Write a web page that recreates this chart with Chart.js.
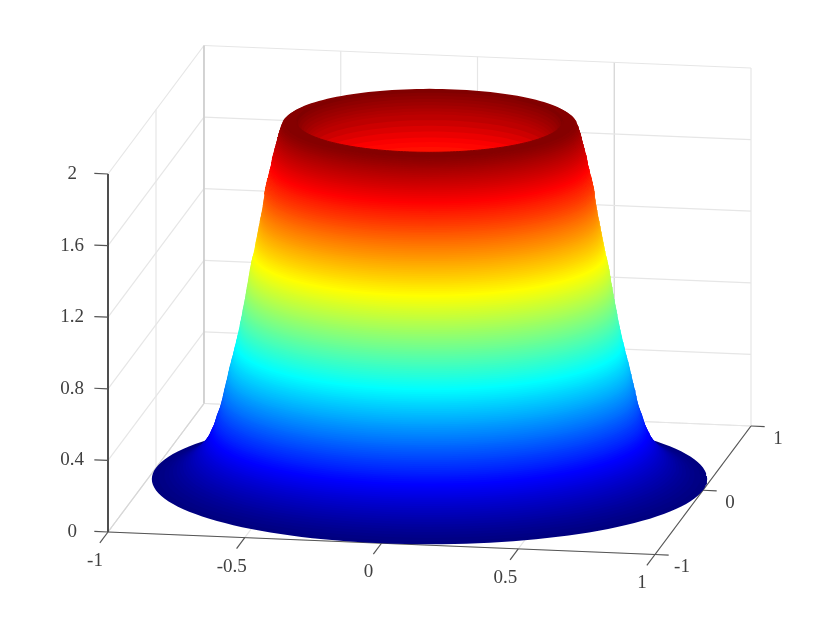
<!DOCTYPE html>
<html>
<head>
<meta charset="utf-8">
<title>Surface</title>
<script src="https://cdn.jsdelivr.net/npm/chart.js@4"></script>
<style>
    body { margin: 0; background: #fff; }
    canvas { display: block; }
</style>
</head>
<body>
<canvas id="surface-chart" width="830" height="623"></canvas>
<script>
// Tick labels of the three axes
const xTicks = [-1, -0.5, 0, 0.5, 1];
const yTicks = [-1, 0, 1];
const zTicks = [0, 0.4, 0.8, 1.2, 1.6, 2];

const wallHeights = [
    0, 0.01, 0.02, 0.03, 0.04, 0.05, 0.06, 0.07, 0.08, 0.09,
    0.10, 0.11, 0.12, 0.13, 0.14, 0.15, 0.16, 0.17, 0.18, 0.19,
    0.20, 0.21, 0.22, 0.23, 0.24, 0.25, 0.26, 0.27, 0.28, 0.29,
    0.30, 0.31, 0.32, 0.33, 0.34, 0.35, 0.36, 0.37, 0.38, 0.39,
    0.40, 0.41, 0.42, 0.43, 0.44, 0.45, 0.46, 0.47, 0.48, 0.49,
    0.50, 0.51, 0.52, 0.53, 0.54, 0.55, 0.56, 0.57, 0.58, 0.59,
    0.60, 0.61, 0.62, 0.63, 0.64, 0.65, 0.66, 0.67, 0.68, 0.69,
    0.70, 0.71, 0.72, 0.73, 0.74, 0.75, 0.76, 0.77, 0.78, 0.79,
    0.80, 0.81, 0.82, 0.83, 0.84, 0.85, 0.86, 0.87, 0.88, 0.89,
    0.90, 0.91, 0.92, 0.93, 0.94, 0.95, 0.96, 0.97, 0.98, 0.99,
    1.00, 1.01, 1.02, 1.03, 1.04, 1.05, 1.06, 1.07, 1.08, 1.09,
    1.10, 1.11, 1.12, 1.13, 1.14, 1.15, 1.16, 1.17, 1.18, 1.19,
    1.20, 1.21, 1.22, 1.23, 1.24, 1.25, 1.26, 1.27, 1.28, 1.29,
    1.30, 1.31, 1.32, 1.33, 1.34, 1.35, 1.36, 1.37, 1.38, 1.39,
    1.40, 1.41, 1.42, 1.43, 1.44, 1.45, 1.46, 1.47, 1.48, 1.49,
    1.50, 1.51, 1.52, 1.53, 1.54, 1.55, 1.56, 1.57, 1.58, 1.59,
    1.60, 1.61, 1.62, 1.63, 1.64, 1.65, 1.66, 1.67, 1.68, 1.69,
    1.70, 1.71, 1.72, 1.73, 1.74, 1.75, 1.76, 1.77, 1.78, 1.79,
    1.80, 1.81, 1.82, 1.83, 1.84, 1.85, 1.86, 1.87, 1.88, 1.89,
    1.90, 1.91, 1.92, 1.93, 1.94, 1.95, 1.96, 1.97, 1.98, 1.99, 2.00
];
const wallRadii = [
    1.000, 0.975, 0.955, 0.938, 0.924, 0.911, 0.899, 0.888, 0.878, 0.869,
    0.860, 0.853, 0.846, 0.839, 0.833, 0.827, 0.822, 0.817, 0.812, 0.808,
    0.804, 0.800, 0.797, 0.794, 0.791, 0.788, 0.785, 0.782, 0.779, 0.777,
    0.775, 0.773, 0.771, 0.769, 0.767, 0.764, 0.762, 0.759, 0.757, 0.755,
    0.753, 0.751, 0.750, 0.748, 0.747, 0.745, 0.744, 0.743, 0.741, 0.739,
    0.738, 0.736, 0.735, 0.733, 0.732, 0.730, 0.729, 0.727, 0.726, 0.724,
    0.723, 0.721, 0.720, 0.718, 0.716, 0.715, 0.713, 0.711, 0.709, 0.708,
    0.706, 0.705, 0.703, 0.702, 0.700, 0.698, 0.697, 0.695, 0.694, 0.692,
    0.691, 0.689, 0.688, 0.686, 0.685, 0.684, 0.683, 0.681, 0.680, 0.679,
    0.678, 0.676, 0.675, 0.674, 0.673, 0.671, 0.670, 0.669, 0.668, 0.666,
    0.665, 0.664, 0.663, 0.662, 0.661, 0.660, 0.659, 0.657, 0.656, 0.655,
    0.654, 0.653, 0.652, 0.651, 0.650, 0.649, 0.648, 0.646, 0.645, 0.644,
    0.643, 0.641, 0.640, 0.638, 0.636, 0.635, 0.633, 0.632, 0.631, 0.629,
    0.628, 0.627, 0.626, 0.624, 0.623, 0.622, 0.621, 0.619, 0.618, 0.617,
    0.616, 0.614, 0.613, 0.612, 0.611, 0.609, 0.608, 0.607, 0.606, 0.604,
    0.603, 0.602, 0.601, 0.600, 0.599, 0.598, 0.597, 0.596, 0.595, 0.594,
    0.593, 0.592, 0.591, 0.590, 0.588, 0.587, 0.585, 0.584, 0.582, 0.580,
    0.578, 0.577, 0.575, 0.574, 0.572, 0.570, 0.569, 0.568, 0.567, 0.566,
    0.565, 0.562, 0.560, 0.559, 0.557, 0.556, 0.554, 0.552, 0.550, 0.549,
    0.547, 0.546, 0.544, 0.542, 0.540, 0.538, 0.536, 0.533, 0.530, 0.520, 0.480
];

// Inside of the crater, from the rim down
const bowlHeights = [2.00, 1.985, 1.97, 1.955, 1.94, 1.925, 1.91, 1.895, 1.88, 1.85, 1.82, 1.79, 1.76, 1.74, 1.72, 1.70, 1.68, 1.66];
const bowlRadii = [0.48, 0.475, 0.47, 0.462, 0.455, 0.447, 0.44, 0.435, 0.43, 0.425, 0.42, 0.415, 0.405, 0.39, 0.37, 0.35, 0.30, 0.20];

// Jet colormap stops
const jetStops = [[0, 0, 128], [0, 0, 255], [0, 128, 255], [0, 255, 255], [128, 255, 128], [255, 255, 0], [255, 128, 0], [255, 0, 0], [128, 0, 0]];

const GRID = '#e6e6e6';
const AXIS = '#555555';
const RING_POINTS = 144;
const FONT = { family: '"Liberation Serif", serif', size: 19 };

// Turn a height into its jet color
function jetColor(z) {
    const pos = Math.min(z / 2, 1) * (jetStops.length - 1);
    const i = Math.min(Math.floor(pos), jetStops.length - 2);
    const f = pos - i;
    const c = jetStops[i].map((v, k) => Math.round(v + (jetStops[i + 1][k] - v) * f));
    return `rgb(${c[0]}, ${c[1]}, ${c[2]})`;
}

// 3D to chart coordinates: x scale is in pixels, y scale is in z units at the front left corner
function project(x, y, z) {
    return {
        x: 429.5 + 273.5 * x + 48 * y,
        y: z + (53 - 11.25 * x + 64.25 * y) / 179
    };
}

// Points of one ring between two angles
function ringPoints(radius, z, start, end) {
    const points = [];
    for (let i = 0; i <= RING_POINTS; i++) {
        const t = start + (end - start) * i / RING_POINTS;
        points.push(project(radius * Math.cos(t), radius * Math.sin(t), z));
    }
    return points;
}

function lineDataset(from, to, color, width = 1) {
    return {
        data: [project(...from), project(...to)],
        showLine: true,
        borderColor: color,
        borderWidth: width,
        pointRadius: 0,
        clip: false
    };
}

function shapeDataset(points, color, borderWidth) {
    return {
        data: points,
        showLine: true,
        fill: 'shape',
        backgroundColor: color,
        borderColor: color,
        borderWidth: borderWidth,
        pointRadius: 0,
        clip: false
    };
}

// Walls and floor grid
function gridDatasets() {
    const sets = [];
    yTicks.forEach(y => {
        sets.push(lineDataset([-1, y, 0], [-1, y, 2], GRID, 1.2));
        sets.push(lineDataset([-1, y, 0], [1, y, 0], GRID, 1.2));
    });
    xTicks.forEach(x => {
        sets.push(lineDataset([x, 1, 0], [x, 1, 2], x === 0.5 ? '#d2d2d2' : GRID, 1.2));
        sets.push(lineDataset([x, -1, 0], [x, 1, 0], GRID, 1.2));
    });
    zTicks.forEach(z => {
        sets.push(lineDataset([-1, -1, z], [-1, 1, z], GRID, 1.2));
        sets.push(lineDataset([-1, 1, z], [1, 1, z], GRID, 1.2));
    });
    sets.push(lineDataset([-1, 1, 0], [-1, 1, 2], '#c4c4c4', 1.2));
    sets.push(lineDataset([-1, -1, 0], [-1, 1, 0], '#d6d6d6', 1.2));
    return sets;
}

// The three axis lines and their tick marks
function axisDatasets() {
    const sets = [
        lineDataset([-1, -1, 0], [-1, -1, 2], '#262626', 1.6),
        lineDataset([-1, -1, 0], [1, -1, 0], AXIS, 1.2),
        lineDataset([1, -1, 0], [1, 1, 0], AXIS, 1.2)
    ];
    xTicks.forEach(x => sets.push(lineDataset([x, -1, 0], [x, -1.17, 0], AXIS, 1.2)));
    yTicks.forEach(y => sets.push(lineDataset([1, y, 0], [1.05, y, 0], AXIS, 1.2)));
    zTicks.forEach(z => sets.push(lineDataset([-1, -1, z], [-1.05, -1, z], AXIS, 1.2)));
    return sets;
}

// Painter's order: stacked discs for the solid, the crater on top, then the front wall again
function surfaceDatasets() {
    const sets = [];
    const full = Math.PI * 2;
    // angle where a ring reaches its leftmost and rightmost screen point
    const edge = Math.atan2(48, 273.5);

    wallHeights.forEach((z, i) => {
        sets.push(shapeDataset(ringPoints(wallRadii[i], z, 0, full), jetColor(z), 0));
    });
    bowlHeights.forEach((z, i) => {
        sets.push(shapeDataset(ringPoints(bowlRadii[i], z, 0, full), jetColor(z), 0));
    });
    wallHeights.forEach((z, i) => {
        if (z < 1.6 || i === wallHeights.length - 1) return;
        const lower = ringPoints(wallRadii[i], z, edge + Math.PI, edge + full);
        const upper = ringPoints(wallRadii[i + 1], wallHeights[i + 1], edge + Math.PI, edge + full);
        sets.push(shapeDataset(lower.concat(upper.reverse()), jetColor(z), 1));
    });
    return sets;
}

// x and y tick labels sit beside the slanted axes, so they are placed from the scales
const slantedLabels = {
    id: 'slantedLabels',
    afterDraw(chart) {
        const ctx = chart.ctx;
        const put = (text, p, dx, dy) => {
            ctx.fillText(text, chart.scales.x.getPixelForValue(p.x) + dx, chart.scales.y.getPixelForValue(p.y) + dy);
        };
        ctx.save();
        ctx.font = `${FONT.size}px ${FONT.family}`;
        ctx.fillStyle = '#404040';
        ctx.textAlign = 'center';
        ctx.textBaseline = 'middle';
        xTicks.forEach(x => put(String(x), project(x, -1, 0), -13, 29));
        yTicks.forEach(y => put(String(y), project(1, y, 0), 27, 13));
        ctx.restore();
    }
};

function initChart() {
    const datasets = [...gridDatasets(), ...axisDatasets(), ...surfaceDatasets()];

    new Chart(document.getElementById('surface-chart'), {
        type: 'scatter',
        // Chart.js paints the first dataset last
        data: { datasets: datasets.reverse() },
        plugins: [slantedLabels],
        options: {
            responsive: false,
            animation: false,
            layout: { padding: 0 },
            elements: { line: { tension: 0 } },
            plugins: { legend: { display: false }, tooltip: { enabled: false } },
            scales: {
                x: { type: 'linear', display: false, min: 108, max: 830 },
                y: {
                    type: 'linear',
                    position: 'left',
                    min: -91 / 179,
                    max: 532 / 179,
                    grid: { display: false, drawTicks: false },
                    border: { display: false },
                    afterBuildTicks: scale => { scale.ticks = zTicks.map(value => ({ value })); },
                    afterFit: scale => {
                        // full height plot area, the tick padding is only wanted sideways
                        scale.width = 108;
                        scale.paddingTop = 0;
                        scale.paddingBottom = 0;
                    },
                    ticks: {
                        autoSkip: false,
                        font: FONT,
                        color: '#404040',
                        padding: 24,
                        crossAlign: 'center',
                        callback: value => String(value)
                    }
                }
            }
        }
    });
}

document.addEventListener('DOMContentLoaded', initChart);
</script>
</body>
</html>
